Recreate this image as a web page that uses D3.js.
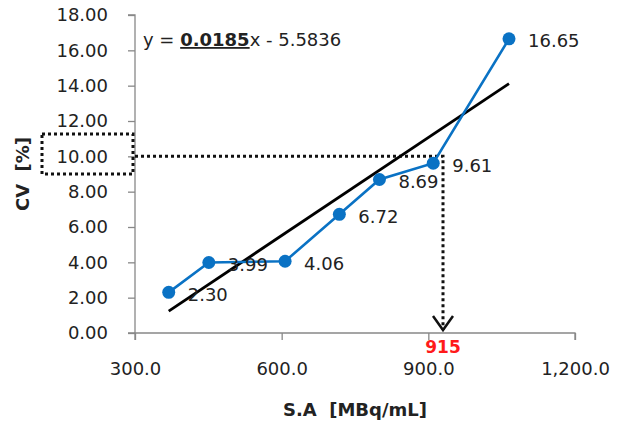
<!DOCTYPE html>
<html>
<head>
<meta charset="utf-8">
<script src="https://cdn.jsdelivr.net/npm/d3@7"></script>
<style>
  body { margin: 0; background: #fff; }
  text { font-family: "DejaVu Sans", sans-serif; fill: #222; white-space: pre; }
</style>
</head>
<body>
<div id="chart"></div>
<script>
// data
let saValues = [369, 451, 607, 718, 800, 910, 1065];
let cvValues = [2.30, 3.99, 4.06, 6.72, 8.69, 9.61, 16.65];
let xTicks = [300, 600, 900, 1200];
let yTicks = [0, 2, 4, 6, 8, 10, 12, 14, 16, 18];
let slope = 0.0185;
let intercept = -5.5836;
let targetCV = 10;
let markX = 930;      // where the dotted arrow drops
let markLabel = "915";

let svgWidth = 621;
let svgHeight = 428;
let margin = { top: 15, right: 46, bottom: 95, left: 135 };
let width = svgWidth - margin.left - margin.right;
let height = svgHeight - margin.top - margin.bottom;

let svg = d3.select("#chart")
  .append("svg")
  .attr("width", svgWidth)
  .attr("height", svgHeight);

let chartGroup = svg.append("g")
  .attr("transform", `translate(${margin.left}, ${margin.top})`);

let x = d3.scaleLinear().domain([300, 1200]).range([0, width]);
let y = d3.scaleLinear().domain([0, 18]).range([height, 0]);

// axes
let bottomAxis = d3.axisBottom(x).tickValues(xTicks).tickSize(7)
  .tickFormat(d3.format(",.1f"));
let leftAxis = d3.axisLeft(y).tickValues(yTicks).tickSize(7)
  .tickFormat(d3.format(".2f"));

let xAxis = chartGroup.append("g")
  .attr("transform", `translate(0, ${height})`)
  .call(bottomAxis);
let yAxis = chartGroup.append("g").call(leftAxis);

[xAxis, yAxis].forEach(a => {
  a.selectAll("path, line").attr("stroke", "#888").attr("stroke-width", 1.3);
  a.selectAll("text").style("font-size", "18px").attr("fill", "#222");
});
xAxis.select(".domain").attr("d", `M0,7V0H${width}V7`);
yAxis.select(".domain").attr("d", `M-7,0H0V${height}H-7`);
xAxis.selectAll("text").attr("dy", "1.78em");
yAxis.selectAll("text").attr("x", -27);

// dotted guide lines
chartGroup.append("path")
  .attr("d", `M0,${y(targetCV)}H${x(markX)}V${height - 3}`)
  .attr("fill", "none")
  .attr("stroke", "#111")
  .attr("stroke-width", 3)
  .attr("stroke-dasharray", "3,3");

chartGroup.append("path")
  .attr("d", `M${x(markX) - 10},${height - 17}L${x(markX)},${height - 3}L${x(markX) + 10},${height - 17}`)
  .attr("fill", "none")
  .attr("stroke", "#111")
  .attr("stroke-width", 2.5);

// dotted box around the 10.00 tick label
svg.append("rect")
  .attr("x", 42)
  .attr("y", 134)
  .attr("width", 91)
  .attr("height", 40)
  .attr("fill", "none")
  .attr("stroke", "#111")
  .attr("stroke-width", 3)
  .attr("stroke-dasharray", "3,3");

// linear trend line
let xMin = d3.min(saValues), xMax = d3.max(saValues);
chartGroup.append("line")
  .attr("x1", x(xMin)).attr("y1", y(slope * xMin + intercept))
  .attr("x2", x(xMax)).attr("y2", y(slope * xMax + intercept))
  .attr("stroke", "#000")
  .attr("stroke-width", 2.8);

// data series
let points = saValues.map((d, i) => ({ sa: d, cv: cvValues[i] }));

chartGroup.append("path")
  .datum(points)
  .attr("fill", "none")
  .attr("stroke", "#0a72c4")
  .attr("stroke-width", 2.6)
  .attr("d", d3.line().x(d => x(d.sa)).y(d => y(d.cv)));

chartGroup.selectAll("circle")
  .data(points)
  .enter()
  .append("circle")
  .attr("cx", d => x(d.sa))
  .attr("cy", d => y(d.cv))
  .attr("r", 6.5)
  .attr("fill", "#0a72c4");

chartGroup.selectAll(".pointLabel")
  .data(points)
  .enter()
  .append("text")
  .classed("pointLabel", true)
  .attr("x", d => x(d.sa) + 19)
  .attr("y", d => y(d.cv) + 2)
  .attr("dy", "0.35em")
  .style("font-size", "18px")
  .text(d => d.cv.toFixed(2));

// 915 marker label
chartGroup.append("text")
  .attr("x", x(markX))
  .attr("y", height + 20)
  .attr("text-anchor", "middle")
  .style("font-size", "17px")
  .style("font-weight", "bold")
  .style("fill", "#ff1a1a")
  .text(markLabel);

// equation
let eq = svg.append("text")
  .attr("x", 143)
  .attr("y", 46)
  .style("font-size", "18px");
eq.append("tspan").text("y = ");
eq.append("tspan").style("font-weight", "bold").style("text-decoration", "underline")
  .text(slope.toFixed(4));
eq.append("tspan").text("x - " + Math.abs(intercept).toFixed(4));

// axis titles
svg.append("text")
  .attr("x", margin.left + width / 2)
  .attr("y", 416)
  .attr("text-anchor", "middle")
  .style("font-size", "18px")
  .style("font-weight", "bold")
  .text("S.A  [MBq/mL]");

svg.append("text")
  .attr("transform", `translate(29, ${margin.top + height / 2}) rotate(-90)`)
  .attr("text-anchor", "middle")
  .style("font-size", "18px")
  .style("font-weight", "bold")
  .text("CV  [%]");
</script>
</body>
</html>
